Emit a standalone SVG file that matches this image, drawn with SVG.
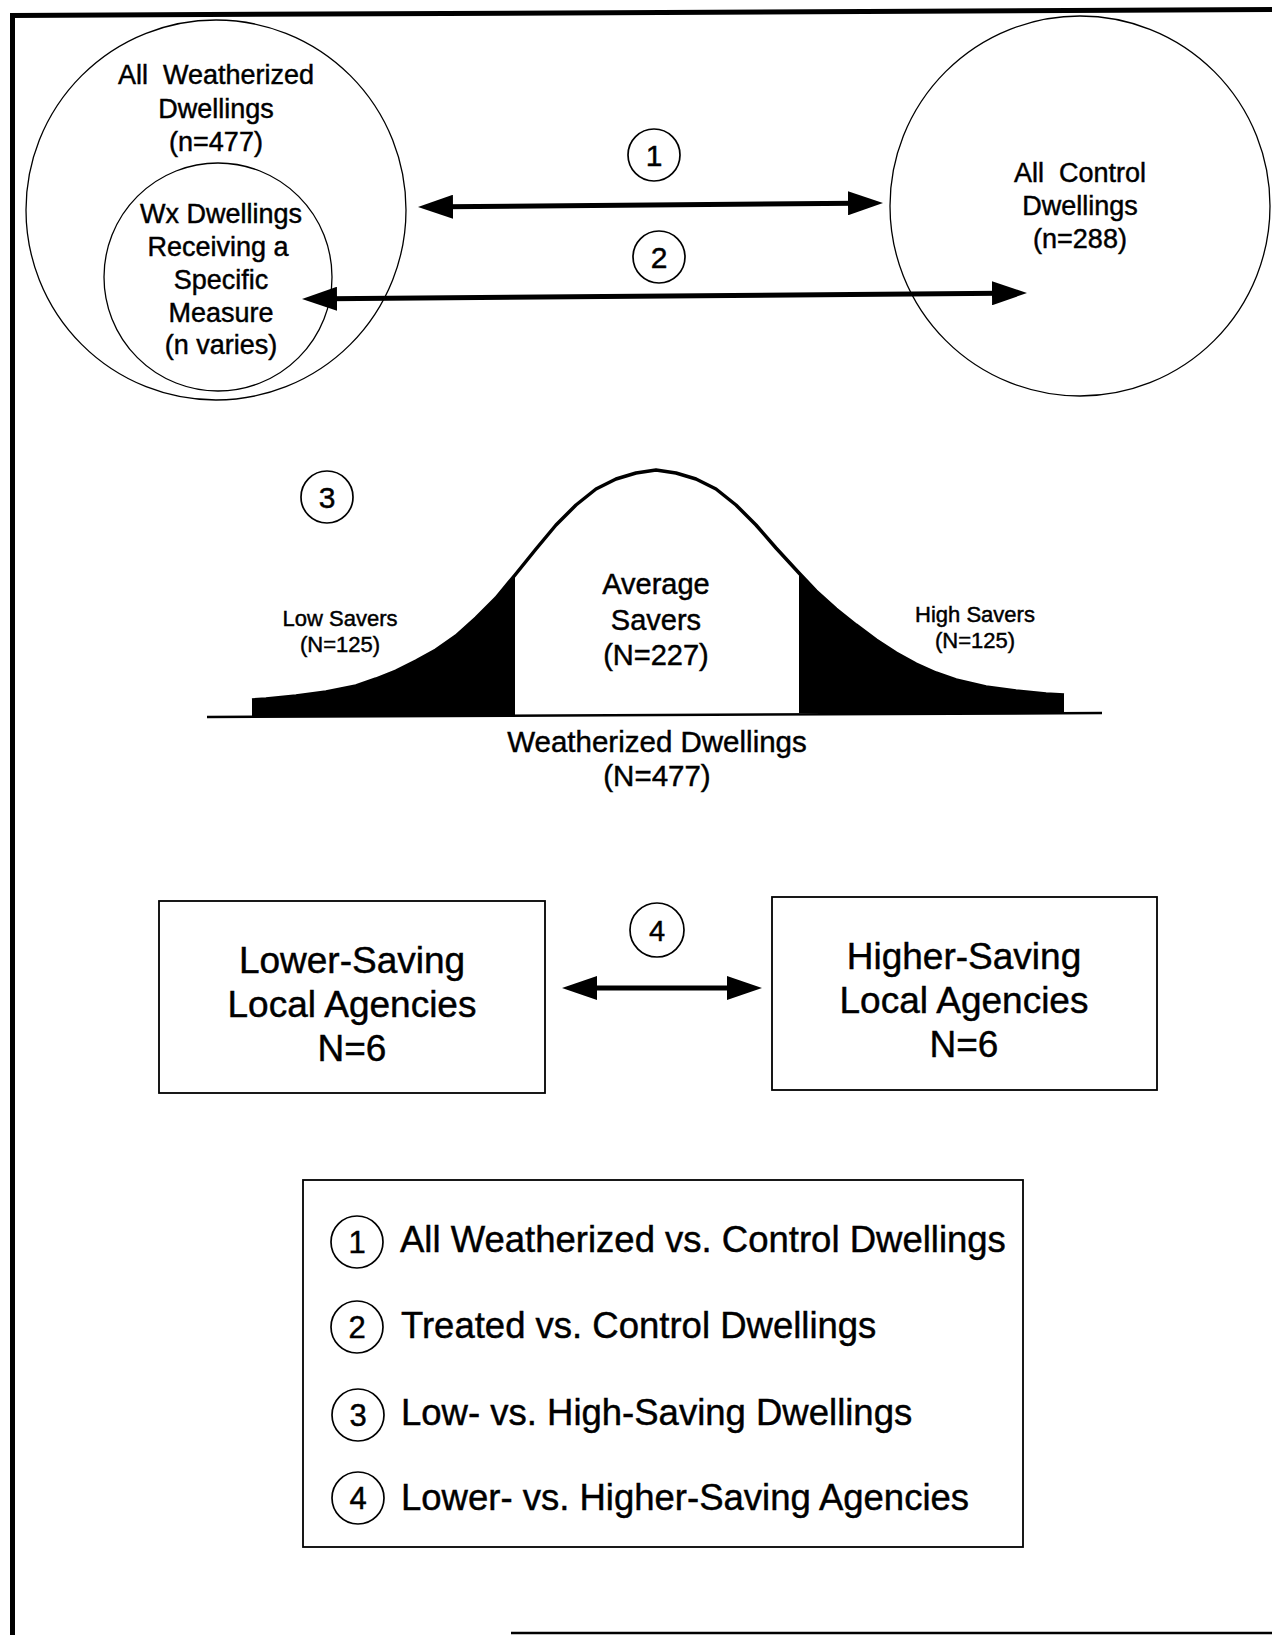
<svg xmlns="http://www.w3.org/2000/svg" width="1272" height="1635" viewBox="0 0 1272 1635">
<style>
.t{font-family:"Liberation Sans",Arial,Helvetica,sans-serif;fill:#000;stroke:#000;stroke-width:0.45;text-anchor:middle}
.l{text-anchor:start}
.ring{fill:none;stroke:#000;stroke-width:1.3}
.num{fill:#fff;stroke:#000;stroke-width:1.7}
.box{fill:#fff;stroke:#000;stroke-width:1.8}
.arr{stroke:#000;stroke-width:5;fill:none}
.frame{stroke:#000;fill:none}
</style>
<defs>
<marker id="ah" viewBox="0 0 35 24" refX="8" refY="12" markerWidth="35" markerHeight="24" markerUnits="userSpaceOnUse" orient="auto-start-reverse">
<path d="M0,0 L35,12 L0,24 Z" fill="#000"/>
</marker>
</defs>
<rect x="0" y="0" width="1272" height="1635" fill="#fff"/>
<g id="frame">
<line class="frame" x1="12" y1="15.5" x2="1272" y2="9.5" stroke-width="5"/>
<line class="frame" x1="12.5" y1="13" x2="12.5" y2="1635" stroke-width="5"/>
<line class="frame" x1="511" y1="1633" x2="1272" y2="1633" stroke-width="2.5"/>
</g>
<g id="all-weatherized">
<circle class="ring" cx="216" cy="210" r="190"/>
<text class="t" font-size="27" x="216" y="84" xml:space="preserve">All  Weatherized</text>
<text class="t" font-size="27" x="216" y="118">Dwellings</text>
<text class="t" font-size="27" x="216" y="151">(n=477)</text>
</g>
<g id="wx-specific">
<circle class="ring" cx="218" cy="277" r="114"/>
<text class="t" font-size="27" x="221" y="223">Wx Dwellings</text>
<text class="t" font-size="27" x="218" y="256">Receiving a</text>
<text class="t" font-size="27" x="221" y="289">Specific</text>
<text class="t" font-size="27" x="221" y="322">Measure</text>
<text class="t" font-size="27" x="221" y="354">(n varies)</text>
</g>
<g id="all-control">
<circle class="ring" cx="1080" cy="206" r="190"/>
<text class="t" font-size="27" x="1080" y="182" xml:space="preserve">All  Control</text>
<text class="t" font-size="27" x="1080" y="215">Dwellings</text>
<text class="t" font-size="27" x="1080" y="248">(n=288)</text>
</g>
<g id="connectors">
<line class="arr" x1="445" y1="206.8" x2="856" y2="203.2" marker-start="url(#ah)" marker-end="url(#ah)"/>
<line class="arr" x1="329" y1="298.8" x2="1000" y2="293.2" marker-start="url(#ah)" marker-end="url(#ah)"/>
<line class="arr" x1="589" y1="988" x2="735" y2="988" marker-start="url(#ah)" marker-end="url(#ah)"/>
</g>
<g id="label-1">
<circle class="num" cx="654" cy="155" r="26"/>
<text class="t" font-size="30" x="654" y="166">1</text>
</g>
<g id="label-2">
<circle class="num" cx="659" cy="257" r="26"/>
<text class="t" font-size="30" x="659" y="268">2</text>
</g>
<g id="bell-curve">
<polygon fill="#000" points="252,717 252,700 266,699 296,696 326,692 356,686 376,679 396,671 416,661 436,650 456,636 476,618 496,598 515,575 515,717"/>
<polygon fill="#000" points="799,713 799,573 816,591 836,609 856,625 876,640 896,653 916,664 936,673 956,680 986,687 1016,691 1046,694 1064,695 1064,713"/>
<polyline fill="none" stroke="#000" stroke-width="3.5" stroke-linejoin="round" points="252,700 266,699 296,696 326,692 356,686 376,679 396,671 416,661 436,650 456,636 476,618 496,598 515,575 536,549 556,525 576,505 596,489 616,479 636,473 656,470 676,473 696,479 716,489 736,505 756,525 776,548 799,573 816,591 836,609 856,625 876,640 896,653 916,664 936,673 956,680 986,687 1016,691 1046,694 1064,695"/>
<line x1="207" y1="717" x2="1102" y2="713" stroke="#000" stroke-width="2.5"/>
<text class="t" font-size="22" x="340" y="626">Low Savers</text>
<text class="t" font-size="22" x="340" y="652">(N=125)</text>
<text class="t" font-size="22" x="975" y="622">High Savers</text>
<text class="t" font-size="22" x="975" y="648">(N=125)</text>
<text class="t" font-size="29" x="656" y="594">Average</text>
<text class="t" font-size="29" x="656" y="630">Savers</text>
<text class="t" font-size="29" x="656" y="665">(N=227)</text>
<text class="t" font-size="29.5" x="657" y="752">Weatherized Dwellings</text>
<text class="t" font-size="29.5" x="657" y="786">(N=477)</text>
</g>
<g id="label-3">
<circle class="num" cx="327" cy="497" r="26"/>
<text class="t" font-size="30" x="327" y="508">3</text>
</g>
<g id="lower-saving">
<rect class="box" x="159" y="901" width="386" height="192"/>
<text class="t" font-size="37" x="352" y="973">Lower-Saving</text>
<text class="t" font-size="37" x="352" y="1017">Local Agencies</text>
<text class="t" font-size="37" x="352" y="1061">N=6</text>
</g>
<g id="higher-saving">
<rect class="box" x="772" y="897" width="385" height="193"/>
<text class="t" font-size="37" x="964" y="969">Higher-Saving</text>
<text class="t" font-size="37" x="964" y="1013">Local Agencies</text>
<text class="t" font-size="37" x="964" y="1057">N=6</text>
</g>
<g id="label-4">
<circle class="num" cx="657" cy="930" r="27"/>
<text class="t" font-size="29" x="657" y="941">4</text>
</g>
<g id="legend">
<rect class="box" x="303" y="1180" width="720" height="367"/>
<circle class="num" cx="357" cy="1242" r="26"/>
<text class="t" font-size="31" x="357" y="1253">1</text>
<text class="t l" font-size="36.5" x="400" y="1252">All Weatherized vs. Control Dwellings</text>
<circle class="num" cx="357" cy="1327" r="26"/>
<text class="t" font-size="31" x="357" y="1338">2</text>
<text class="t l" font-size="36.5" x="401" y="1338">Treated vs. Control Dwellings</text>
<circle class="num" cx="358" cy="1415" r="26"/>
<text class="t" font-size="31" x="358" y="1426">3</text>
<text class="t l" font-size="36.5" x="401" y="1425">Low- vs. High-Saving Dwellings</text>
<circle class="num" cx="358" cy="1498" r="26"/>
<text class="t" font-size="31" x="358" y="1509">4</text>
<text class="t l" font-size="36.5" x="401" y="1510">Lower- vs. Higher-Saving Agencies</text>
</g>
</svg>
